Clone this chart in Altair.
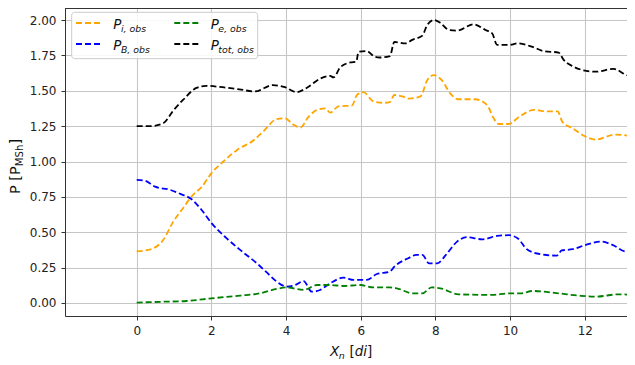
import altair as alt
import pandas as pd

# ---------------- data ----------------
x_i = [0, 0.31, 0.71, 0.98, 1.24, 1.51, 1.74, 2.01, 2.32, 2.68, 3.13, 3.4, 3.75, 3.97, 4.2, 4.38,
       4.6, 4.83, 5.05, 5.18, 5.4, 5.76, 5.9, 6.07, 6.34, 6.61, 6.78, 6.9, 7.11, 7.3, 7.6, 7.78,
       7.96, 8.17, 8.4, 8.62, 9.06, 9.38, 9.56, 9.7, 9.96, 10.24, 10.64, 10.96, 11.27, 11.4,
       11.67, 12.03, 12.3, 12.8, 13.35]
p_i = [0.365, 0.375, 0.445, 0.575, 0.67, 0.765, 0.82, 0.92, 1.0, 1.08, 1.15, 1.215, 1.30, 1.305,
       1.26, 1.24, 1.315, 1.365, 1.375, 1.345, 1.39, 1.395, 1.47, 1.49, 1.425, 1.415, 1.42, 1.47,
       1.46, 1.445, 1.46, 1.575, 1.61, 1.575, 1.48, 1.44, 1.44, 1.40, 1.305, 1.265, 1.265, 1.315,
       1.365, 1.355, 1.355, 1.28, 1.235, 1.175, 1.155, 1.19, 1.175]

x_B = [0, 0.22, 0.49, 0.89, 1.2, 1.47, 1.74, 2.01, 2.41, 2.77, 3.22, 3.49, 3.75, 4.02, 4.24, 4.47,
       4.69, 4.91, 5.18, 5.54, 5.81, 6.16, 6.43, 6.78, 6.9, 7.27, 7.49, 7.65, 7.83, 8.05, 8.28,
       8.58, 8.85, 9.25, 9.65, 9.96, 10.2, 10.45, 10.81, 11.25, 11.38, 11.67, 12.03, 12.43, 12.74,
       13.1, 13.35]
p_B = [0.87, 0.865, 0.822, 0.80, 0.768, 0.733, 0.657, 0.563, 0.457, 0.375, 0.28, 0.214, 0.151,
       0.116, 0.127, 0.155, 0.08, 0.092, 0.139, 0.179, 0.163, 0.163, 0.205, 0.222, 0.257, 0.316,
       0.34, 0.34, 0.28, 0.28, 0.34, 0.434, 0.465, 0.45, 0.474, 0.479, 0.458, 0.38, 0.345, 0.335,
       0.371, 0.38, 0.411, 0.434, 0.411, 0.364, 0.364]

x_e = [0, 0.71, 1.33, 2.01, 2.77, 3.3, 3.75, 4.02, 4.47, 4.83, 5.18, 5.54, 5.99, 6.34, 6.78, 6.96,
       7.4, 7.65, 7.9, 8.13, 8.62, 9.52, 9.96, 10.3, 10.6, 11.3, 11.84, 12.3, 12.9, 13.35]
p_e = [0.003, 0.009, 0.014, 0.033, 0.052, 0.068, 0.10, 0.11, 0.092, 0.127, 0.127, 0.12, 0.127,
       0.11, 0.11, 0.104, 0.068, 0.068, 0.11, 0.104, 0.061, 0.057, 0.068, 0.068, 0.085, 0.068,
       0.052, 0.045, 0.061, 0.057]

x_tot = [0, 0.36, 0.71, 0.98, 1.24, 1.6, 1.86, 2.3, 2.75, 3.16, 3.65, 3.97, 4.28, 4.55, 4.91, 5.18,
         5.27, 5.45, 5.72, 5.88, 5.94, 6.16, 6.38, 6.51, 6.78, 6.9, 7.2, 7.38, 7.65, 7.78, 7.96,
         8.13, 8.36, 8.58, 9.02, 9.34, 9.52, 9.65, 10.0, 10.2, 10.6, 10.9, 11.3, 11.43, 11.7,
         11.96, 12.3, 12.77, 13.13, 13.35]
p_tot = [1.25, 1.25, 1.27, 1.36, 1.435, 1.52, 1.535, 1.525, 1.51, 1.495, 1.54, 1.525, 1.49, 1.52,
         1.585, 1.605, 1.595, 1.665, 1.70, 1.705, 1.775, 1.78, 1.74, 1.735, 1.745, 1.845, 1.835,
         1.86, 1.89, 1.965, 2.00, 1.98, 1.93, 1.925, 1.97, 1.93, 1.905, 1.825, 1.825, 1.835, 1.81,
         1.78, 1.77, 1.72, 1.67, 1.645, 1.635, 1.655, 1.61, 1.60]

series_keys = ["i", "B", "e", "tot"]
series_colors = ["orange", "blue", "green", "black"]
x_ticks = [0, 2, 4, 6, 8, 10, 12]
y_ticks = [0.0, 0.25, 0.5, 0.75, 1.0, 1.25, 1.5, 1.75, 2.0]
x_domain = [-1.92, 13.13]
y_domain = [-0.092, 2.085]

# ---------------- layout ----------------
W, H = 562, 308
FONT = "DejaVu Sans"
DASH = [6, 3]
LW = 1.8

xs = {"i": x_i, "B": x_B, "e": x_e, "tot": x_tot}
ps = {"i": p_i, "B": p_B, "e": p_e, "tot": p_tot}

xscale = alt.Scale(domain=x_domain, nice=False, zero=False)
yscale = alt.Scale(domain=y_domain, nice=False, zero=False)

layers = []
for k, col in zip(series_keys, series_colors):
    df = pd.DataFrame({"x": xs[k], "p": ps[k]})
    lc = alt.Chart(df).mark_line(color=col, strokeDash=DASH, strokeWidth=LW, clip=True,
                                 interpolate="monotone").encode(
        x=alt.X("x:Q", scale=xscale,
                axis=alt.Axis(values=x_ticks, title=None, format="d", grid=True)),
        y=alt.Y("p:Q", scale=yscale,
                axis=alt.Axis(values=y_ticks, title=None, format=".2f", grid=True)),
    )
    layers.append(lc)

dummy = alt.Data(values=[{"a": 1}])

def txt(s, px, py, size, italic=False, angle=0, color="#111"):
    kw = dict(text=s, font=FONT, fontSize=size, align="left", baseline="alphabetic", color=color)
    if italic:
        kw["fontStyle"] = "italic"
    if angle:
        kw["angle"] = angle
    return alt.Chart(dummy).mark_text(**kw).encode(x=alt.value(px), y=alt.value(py))

# top spine
layers.append(alt.Chart(dummy).mark_rule(color="#333", strokeWidth=1).encode(
    x=alt.value(0), x2=alt.value(W), y=alt.value(0.5)))

# legend frame
layers.append(alt.Chart(dummy).mark_rect(fill="white", fillOpacity=0.85, stroke="#cccccc",
                                         strokeWidth=1, cornerRadius=3).encode(
    x=alt.value(6.7), x2=alt.value(192.7), y=alt.value(4.3), y2=alt.value(50.7)))

LFS = 13.4
SFS = 9.4
leg = [
    ("i", "orange", 11, 15, 48.3, 20.9, "i, obs"),
    ("B", "blue", 11, 36, 48.3, 41.9, "B, obs"),
    ("e", "green", 109.3, 15, 145.7, 20.9, "e, obs"),
    ("tot", "black", 109.3, 36, 145.7, 41.9, "tot, obs"),
]
for k, col, lx, ly, tx, ty, sub in leg:
    layers.append(alt.Chart(dummy).mark_rule(color=col, strokeDash=DASH, strokeWidth=LW).encode(
        x=alt.value(lx), x2=alt.value(lx + 26.7), y=alt.value(ly)))
    layers.append(txt("P", tx, ty, LFS, italic=True))
    layers.append(txt(sub, tx + 7.6, ty + 2.6, SFS, italic=True))

# x title: X_n [di]
XF = 13.5
XS = XF * 0.7
bx, by = 265, 348
layers.append(txt("X", bx, by, XF, italic=True))
bx2 = bx + 0.685 * XF - 0.5
layers.append(txt("n", bx2, by + 2.5, XS, italic=True))
bx3 = bx2 + 0.634 * XS + 0.5
layers.append(txt("[", bx3 + 0.318 * XF, by, XF))
bx4 = bx3 + 0.708 * XF
layers.append(txt("di", bx4, by, XF, italic=True))
bx5 = bx4 + 0.913 * XF
layers.append(txt("]", bx5, by, XF))

# y title: P [P_MSh] (rotated)
YF = 14.5
YS = YF * 0.7
yx, yy = -45.0, 186
layers.append(txt("P [P", yx, yy, YF, angle=270))
yy2 = yy - 1.914 * YF
layers.append(txt("MSh", yx + 2.8, yy2, YS, angle=270))
yy3 = yy2 - 2.132 * YS
layers.append(txt("]", yx, yy3, YF, angle=270))

chart = alt.layer(*layers).properties(
    width=W, height=H,
    autosize=alt.AutoSizeParams(type="none"),
    padding={"left": 57, "top": 0, "right": 0, "bottom": 45},
).configure_view(stroke=None).configure_axis(
    labelFont=FONT, labelFontSize=12, labelColor="#222",
    gridColor="#c6c6c6", gridWidth=1.1,
    domainColor="#333", domainWidth=1,
    tickColor="#333", tickSize=4, tickWidth=1,
    labelPadding=5,
).configure_axisY(labelAngle=0)

chart.save("out.html", embed_options={"renderer": "svg", "actions": False})
